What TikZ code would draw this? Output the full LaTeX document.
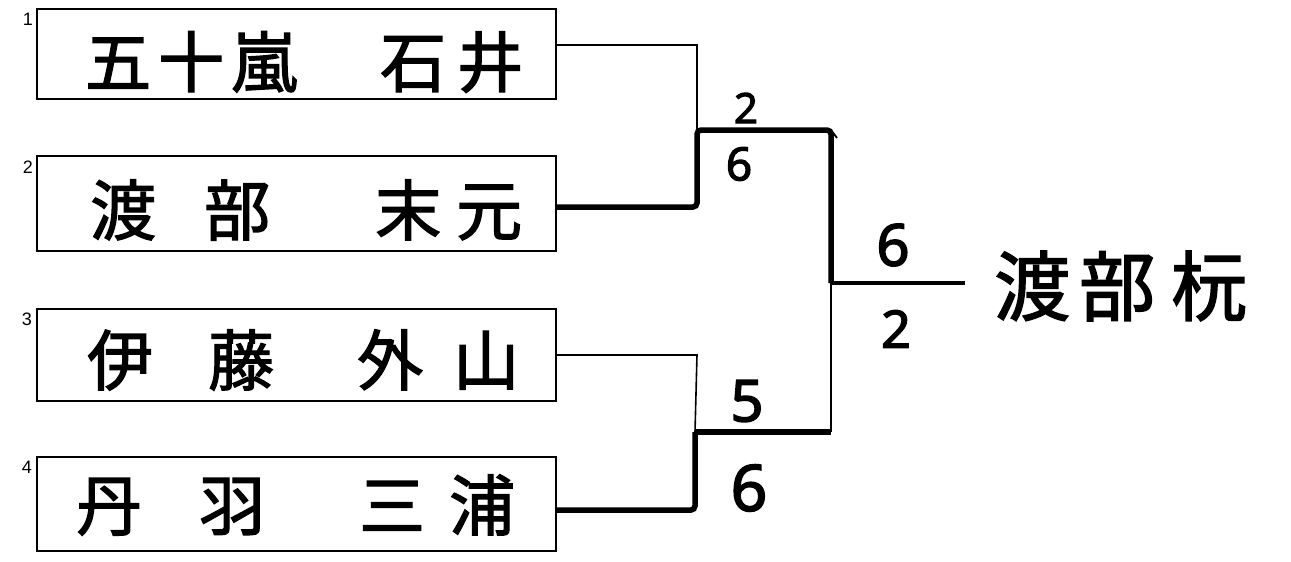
\documentclass[tikz,border=0pt]{standalone}
\usepackage{fontspec}
\newfontfamily\cjk[FakeBold=2]{Noto Sans CJK JP}
\newfontfamily\numf{Liberation Sans}
\newfontfamily\scoref[FakeBold=2.5]{Noto Sans}
\newcommand{\chx}[2]{\makebox[#1pt]{#2}}
\begin{document}
\begin{tikzpicture}[x=1pt,y=-1pt,
  entrybox/.style={draw,line width=1.6pt,minimum width=519pt,minimum height=90pt,inner sep=0pt,anchor=north west},
  nametext/.style={font=\cjk\fontsize{66}{66}\selectfont,inner sep=0pt,anchor=west},
  seed/.style={font=\numf\fontsize{18}{18}\selectfont,inner sep=0pt},
  score/.style={font=\scoref\fontsize{#1}{#1}\selectfont,inner sep=0pt},
  thinline/.style={line width=1.6pt},
  thickline/.style={line width=5.5pt,rounded corners=4pt},
  midline/.style={line width=3.2pt}]
\useasboundingbox (0,0) rectangle (1291,562);
\fill[white] (0,0) rectangle (1291,562);
% entry boxes
\node[entrybox] (b1) at (36,8) {};
\node[entrybox,minimum height=95pt] (b2) at (36,155) {};
\node[entrybox,minimum height=92pt] (b3) at (36,308) {};
\node[entrybox,minimum height=94pt] (b4) at (36,456) {};
% seeds
\node[seed] (s1) at (28,19) {1};
\node[seed] (s2) at (28,167) {2};
\node[seed] (s3) at (27,319) {3};
\node[seed] (s4) at (27,467) {4};
% names
\node[nametext] (n1) at (81.5,62) {\chx{73}{五}\chx{73}{十}\chx{73}{嵐}\hspace{74pt}\chx{77}{石}\chx{77}{井}};
\node[nametext] (n2) at (66,210) {\chx{114}{渡}\chx{114}{部}\hspace{73.5pt}\chx{81}{末}\chx{81}{元}};
\node[nametext] (n3) at (59.5,360) {\chx{121}{伊}\chx{121}{藤}\hspace{40.5pt}\chx{96}{外}\chx{96}{山}};
\node[nametext] (n4) at (47.5,505) {\chx{123}{丹}\chx{123}{羽}\hspace{53.5pt}\chx{90}{三}\chx{90}{浦}};
% junction coordinates
\coordinate (e1) at (b1.east |- 0,45);
\coordinate (e2) at (b2.east |- 0,207);
\coordinate (e3) at (b3.east |- 0,355);
\coordinate (e4) at (b4.east |- 0,510);
\coordinate (ja) at (697,45);
\coordinate (jb) at (697,130);
\coordinate (jc) at (831,130);
\coordinate (jd) at (831,283);
\coordinate (je) at (831,432);
\coordinate (jf) at (695,432);
\coordinate (jg) at (697,355);
\coordinate (win) at (965,283);
% semifinal 1
\draw[thinline] (e1) -- (ja) -- (jb);
\draw[thickline] (e2) -- (jb |- e2) -- (jb) -- (jc) -- (jd);
\draw[line width=1.8pt] (jc) -- ++(6,8);
% semifinal 2
\draw[thinline] (e3) -- (jg) -- (jf);
\draw[thinline] (jd) -- (je);
\draw[thickline] (je) -- (jf);
\draw[thickline] (jf) -- (jf |- e4) -- (e4);
% final
\draw[midline] (jd) -- (win);
% scores
\node[score=42] (sa) at (746,108) {2};
\node[score=46] (sb) at (739,164) {6};
\node[score=58] (sc) at (747,401) {5};
\node[score=64] (sd) at (749,488) {6};
\node[score=58] (se) at (893,245) {6};
\node[score=52] (sf) at (896,329) {2};
% winner
\node[font=\cjk\fontsize{76}{76}\selectfont,inner sep=0pt,anchor=west] (w) at (990,286) {\chx{84}{渡}\chx{86}{部}\chx{98}{杬}};
\end{tikzpicture}
\end{document}
